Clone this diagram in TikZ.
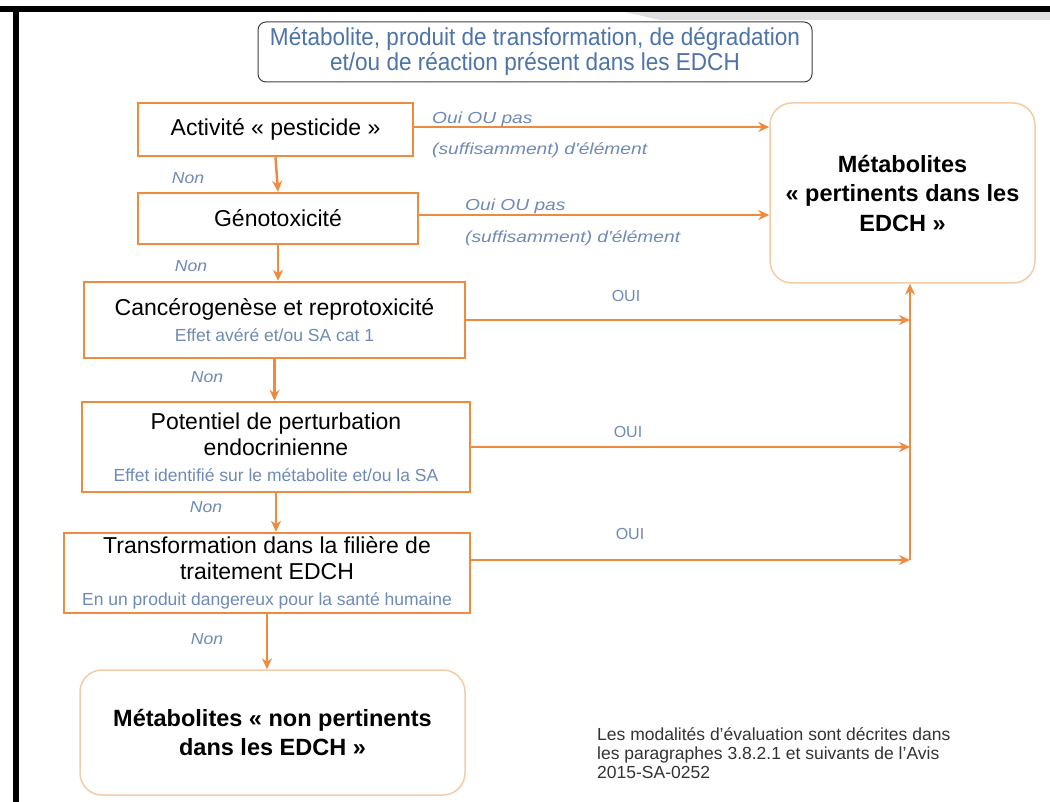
\documentclass[tikz,border=0pt]{standalone}
\usepackage{fontspec}
\setmainfont{Liberation Sans}
\newfontfamily\narrowfont[FakeStretch=0.92]{Liberation Sans}
\newfontfamily\widefont[FakeStretch=1.2]{Liberation Sans}
\newfontfamily\semiwidefont[FakeStretch=1.1]{Liberation Sans}
\usetikzlibrary{arrows.meta}
\definecolor{orng}{HTML}{EE8B3E}
\definecolor{pale}{HTML}{F5CBA5}
\definecolor{lblue}{HTML}{6F8AB5}
\definecolor{tblue}{HTML}{4D73A8}
\definecolor{frameg}{HTML}{404040}
\definecolor{notec}{HTML}{333333}
\newcommand\sublbl[1]{{\color{lblue}\fontsize{17.5}{20}\selectfont #1}}
\begin{document}
\begin{tikzpicture}[x=1pt,y=-1pt,
  box/.style={draw=orng, line width=2.5pt, fill=white, inner sep=0pt, align=center, font=\fontsize{23}{26}\selectfont},
  endbox/.style={draw=pale, line width=1.5pt, rounded corners=22pt, fill=white, inner sep=0pt, align=center, font=\bfseries\fontsize{23.5}{29.5}\selectfont},
  conn/.style={draw=orng, line width=2.5pt, -{Stealth[length=11pt,width=10pt]}},
  lab/.style={text=lblue, font=\widefont\itshape\fontsize{16}{18}\selectfont, inner sep=0pt, anchor=west},
  non/.style={text=lblue, font=\semiwidefont\itshape\fontsize{16}{18}\selectfont, inner sep=0pt},
  oui/.style={text=lblue, font=\fontsize{16}{18}\selectfont, inner sep=0pt}]
\useasboundingbox (0,0) rectangle (1050,802);
\fill[white] (0,0) rectangle (1050,802);
% frame
\fill[gray!25] (625,12) -- (1050,12) -- (1050,20) -- (660,20) -- cycle;
\fill[black] (0,6) rectangle (1050,12);
\fill[black] (13,6) rectangle (19,802);

% title
\node[draw=frameg, line width=1pt, rounded corners=8pt, minimum width=554pt, minimum height=60pt, inner sep=0pt, align=center, text=tblue, font=\narrowfont\fontsize{24.5}{25}\selectfont] (title) at (535,52)
  {Métabolite, produit de transformation, de dégradation\\et/ou de réaction présent dans les EDCH};

% decision boxes
\node[box, minimum width=275pt, minimum height=53pt] (act) at (275.5,129.5) {Activité « pesticide »};
\node[box, minimum width=280pt, minimum height=51pt] (gen) at (278,218.5) {Génotoxicité};
\node[box, minimum width=381pt, minimum height=76pt] (canc) at (274.5,320) {Cancérogenèse et reprotoxicité\\\sublbl{Effet avéré et/ou SA cat 1}};
\node[box, minimum width=388pt, minimum height=90pt] (pot) at (276,447) {Potentiel de perturbation\\endocrinienne\\\sublbl{Effet identifié sur le métabolite et/ou la SA}};
\node[box, minimum width=406pt, minimum height=80pt] (trans) at (267,573) {Transformation dans la filière de\\traitement EDCH\\\sublbl{En un produit dangereux pour la santé humaine}};

% end boxes
\node[endbox, minimum width=265pt, minimum height=180pt] (pert) at (902.5,193) {Métabolites\\« pertinents dans les\\EDCH »};
\node[endbox, minimum width=385pt, minimum height=125pt] (nonpert) at (272.5,732.5) {Métabolites « non pertinents\\dans les EDCH »};

% helper coordinates
\coordinate (bus) at (910,560);
\coordinate (y560) at (0,560);
\coordinate (y127) at (0,127);
\coordinate (y215) at (0,215);

% vertical connectors
\draw[conn] (act.south) -- (gen.north);
\draw[conn] (gen.south) -- (canc.north -| gen.south);
\draw[conn] (canc.south) -- (pot.north -| canc.south);
\draw[conn] (pot.south) -- (trans.north -| pot.south);
\draw[conn] (trans.south) -- (nonpert.north -| trans.south);

% horizontal connectors
\draw[conn] (act.east |- y127) -- (pert.west |- y127);
\draw[conn] (gen.east |- y215) -- (pert.west |- y215);
\draw[conn] (canc.east) -- (canc.east -| bus);
\draw[conn] (pot.east) -- (pot.east -| bus);
\draw[conn] (trans.east |- y560) -- (bus);
\draw[conn] (bus) -- (bus |- pert.south);

% labels
\node[non] (n1) at (188,178) {Non};
\node[non] (n2) at (191,266) {Non};
\node[non] (n3) at (207,377) {Non};
\node[non] (n4) at (206,507) {Non};
\node[non] (n5) at (207,639) {Non};

\node[lab] (l1a) at (432,119) {Oui OU pas};
\node[lab] (l1b) at (432,150) {(suffisamment) d'élément};
\node[lab] (l2a) at (465,206) {Oui OU pas};
\node[lab] (l2b) at (465,238) {(suffisamment) d'élément};

\node[oui] (o1) at (626,296) {OUI};
\node[oui] (o2) at (628,432) {OUI};
\node[oui] (o3) at (630,534) {OUI};

% note
\node[anchor=north west, inner sep=0pt, align=left, text=notec, font=\fontsize{17.5}{19}\selectfont] (note) at (597,727)
  {Les modalités d'évaluation sont décrites dans\\les paragraphes 3.8.2.1 et suivants de l'Avis\\2015-SA-0252};
\end{tikzpicture}
\end{document}
